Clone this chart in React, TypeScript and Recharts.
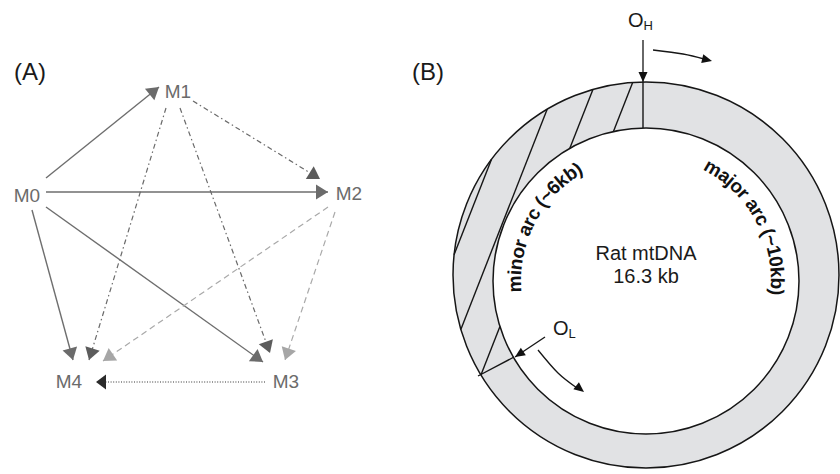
import React from 'react';
import { ComposedChart, XAxis, YAxis, ReferenceLine, ReferenceDot, Scatter, Line } from 'recharts';

const FONT = "'Liberation Sans', Arial, Helvetica, sans-serif";

// ---- panel A: nodes and arrows (page pixels, y goes down) ----
const nodeNames = ['M0', 'M1', 'M2', 'M3', 'M4'];
const nodeX = [27, 178, 349, 286, 69];
const nodeY = [202, 98, 200, 388, 388];

const edgeStyle = ['solid', 'solid', 'solid', 'solid', 'dashdot', 'dashdot', 'dashdot', 'dashed', 'dashed', 'dotted'];
const edgeX1 = [46, 46, 46, 32, 193, 166, 180, 328, 335, 265];
const edgeY1 = [178, 192, 207, 210, 101, 108, 108, 207, 212, 382];
const edgeX2 = [159, 328, 263, 73, 320, 89, 270, 103, 285, 96];
const edgeY2 = [87, 192, 362, 360, 179, 360, 353, 361, 360, 382];

const STYLES: Record<string, { stroke: string; width: number; dash?: string; head: string }> = {
  solid: { stroke: '#6e6e6e', width: 1.4, head: '#6b6b6b' },
  dashdot: { stroke: '#6a6a6a', width: 1.2, dash: '5 3 1.5 3', head: '#5c5c5c' },
  dashed: { stroke: '#a9a9a9', width: 1.2, dash: '6 4', head: '#a6a6a6' },
  dotted: { stroke: '#333333', width: 1.2, dash: '1 1.6', head: '#2b2b2b' },
};

// ---- panel B: ring ----
const RING_X = 646;
const OUTER_Y = 275;
const OUTER_R = 193;
const INNER_Y = 281;
const INNER_R = 153;
const HATCH_C = [665, 628, 590, 554]; // x where each hatch line would cross y = 0
const HATCH_K = 2.55; // dy/dx of the hatch lines
const OH_LINE = [{ x: 643, y: 82 }, { x: 643, y: 128 }];
const OL_LINE = [{ x: 478, y: 376 }, { x: 514, y: 357 }];
const OH_ARROW = [{ x: 643, y: 40 }, { x: 643, y: 82 }];
const OL_ARROW = [{ x: 545, y: 337 }, { x: 515, y: 357 }];
const OH_CURVE = [{ x: 653, y: 50 }, { x: 683, y: 54 }, { x: 704, y: 59 }];
const OL_CURVE = [{ x: 538, y: 350 }, { x: 558, y: 373 }, { x: 577, y: 388 }];

const labelText = ['(A)', '(B)', 'Rat mtDNA', '16.3 kb', 'O', 'O'];
const labelSub = ['', '', '', '', 'H', 'L'];
const labelX = [14, 412, 646, 646, 628, 553];
const labelY = [80, 80, 260, 283, 27, 335];
const labelAnchor = ['start', 'start', 'middle', 'middle', 'start', 'start'];
const labelSize = [24, 24, 20, 20, 20, 20];

const arcText = ['minor arc (~6kb)', 'major arc (~10kb)'];
const arcMid = [207.5, 331.5]; // degrees, clockwise from +x
const ARC_R = 125;

function cut(c: number, cx: number, cy: number, r: number): [number, number] | null {
  const a = c - cx;
  const A = 1 + 1 / (HATCH_K * HATCH_K);
  const B = -(2 * a / HATCH_K + 2 * cy);
  const C = a * a + cy * cy - r * r;
  const d = B * B - 4 * A * C;
  if (d <= 0) return null;
  const s = Math.sqrt(d);
  return [(-B - s) / (2 * A), (-B + s) / (2 * A)];
}

function hatchSegments() {
  const out: { x: number; y: number }[][] = [];
  const [p, q] = OL_LINE;
  HATCH_C.forEach((c) => {
    const o = cut(c, RING_X, OUTER_Y, OUTER_R);
    if (!o) return;
    const i = cut(c, RING_X, INNER_Y, INNER_R);
    const pieces = i ? [[o[0], i[0]], [i[1], o[1]]] : [[o[0], o[1]]];
    pieces.forEach(([ya, yb]) => {
      const my = (ya + yb) / 2;
      const mx = c - my / HATCH_K;
      if (mx >= OH_LINE[0].x) return;
      const side = (q.x - p.x) * (my - p.y) - (q.y - p.y) * (mx - p.x);
      if (side > 0) return;
      out.push([{ x: c - ya / HATCH_K, y: ya }, { x: c - yb / HATCH_K, y: yb }]);
    });
  });
  return out;
}

const ArrowHead = (props: any) => {
  const { cx, cy, payload } = props;
  const a = Math.atan2(payload.dy, payload.dx);
  const L = payload.len;
  const h = payload.half;
  const bx = cx - L * Math.cos(a);
  const by = cy - L * Math.sin(a);
  const nx = -Math.sin(a) * h;
  const ny = Math.cos(a) * h;
  return <polygon points={`${cx},${cy} ${bx + nx},${by + ny} ${bx - nx},${by - ny}`} fill={payload.fill} />;
};

const TextShape = (props: any) => {
  const { cx, cy, payload } = props;
  return (
    <text x={cx} y={cy} textAnchor={payload.anchor} fontSize={payload.size} fill={payload.color} fontFamily={FONT}>
      {payload.text}
      {payload.sub ? (
        <tspan fontSize={13} dy={3}>
          {payload.sub}
        </tspan>
      ) : null}
    </text>
  );
};

const ArcText = (props: any) => {
  const { cx, cy } = props;
  return (
    <g>
      {arcText.map((t, k) => {
        const a0 = ((arcMid[k] - 60) * Math.PI) / 180;
        const a1 = ((arcMid[k] + 60) * Math.PI) / 180;
        const d = `M ${cx + ARC_R * Math.cos(a0)} ${cy + ARC_R * Math.sin(a0)} A ${ARC_R} ${ARC_R} 0 0 1 ${cx + ARC_R * Math.cos(a1)} ${cy + ARC_R * Math.sin(a1)}`;
        return (
          <g key={t}>
            <path id={`arc${k}`} d={d} fill="none" stroke="none" />
            <text fontFamily={FONT} fontWeight={700} fontSize={19} letterSpacing={-0.4} fill="#111">
              <textPath href={`#arc${k}`} startOffset="50%" textAnchor="middle">
                {t}
              </textPath>
            </text>
          </g>
        );
      })}
    </g>
  );
};

export default function App() {
  const nodeData = nodeNames.map((n, i) => ({ x: nodeX[i], y: nodeY[i], text: n, anchor: 'middle', size: 19, color: '#6b6b6b' }));
  const labelData = labelText.map((t, i) => ({ x: labelX[i], y: labelY[i], text: t, sub: labelSub[i], anchor: labelAnchor[i], size: labelSize[i], color: '#1a1a1a' }));

  const headsA = edgeStyle.map((s, i) => ({
    x: edgeX2[i],
    y: edgeY2[i],
    dx: edgeX2[i] - edgeX1[i],
    dy: edgeY2[i] - edgeY1[i],
    len: s === 'dotted' ? 10 : 12,
    half: 7.5,
    fill: STYLES[s].head,
  }));
  const endOf = (pts: { x: number; y: number }[]) => {
    const a = pts[pts.length - 2];
    const b = pts[pts.length - 1];
    return { x: b.x, y: b.y, dx: b.x - a.x, dy: b.y - a.y };
  };
  const headsB = [
    { ...endOf(OH_ARROW), len: 10, half: 4.5, fill: '#111' },
    { ...endOf(OL_ARROW), len: 10, half: 4.5, fill: '#111' },
    { ...endOf(OH_CURVE), x: 712, y: 61, len: 10, half: 4.5, fill: '#111' },
    { ...endOf(OL_CURVE), x: 584, y: 392, len: 10, half: 4.5, fill: '#111' },
  ];

  const hatches = hatchSegments();

  return (
    <div style={{ width: 840, height: 474 }}>
      <style>{'body{margin:0;background:#fff}'}</style>
      <ComposedChart width={840} height={474} margin={{ top: 0, right: 0, bottom: 0, left: 0 }}>
        <XAxis type="number" dataKey="x" domain={[0, 840]} allowDataOverflow hide />
        <YAxis type="number" dataKey="y" domain={[0, 474]} reversed allowDataOverflow hide />

        <ReferenceDot zIndex={50} x={RING_X} y={OUTER_Y} r={OUTER_R} fill="#e1e2e4" stroke="#161616" strokeWidth={1.5} ifOverflow="visible" />
        <ReferenceDot zIndex={51} x={RING_X} y={INNER_Y} r={INNER_R} fill="#ffffff" stroke="#161616" strokeWidth={1.5} ifOverflow="visible" />

        {hatches.map((seg, i) => (
          <ReferenceLine zIndex={400} key={`h${i}`} segment={seg} stroke="#161616" strokeWidth={1.4} ifOverflow="visible" />
        ))}
        <ReferenceLine zIndex={400} segment={OH_LINE} stroke="#161616" strokeWidth={1.4} ifOverflow="visible" />
        <ReferenceLine zIndex={400} segment={OL_LINE} stroke="#161616" strokeWidth={1.4} ifOverflow="visible" />
        <ReferenceLine zIndex={400} segment={OH_ARROW} stroke="#161616" strokeWidth={1.3} ifOverflow="visible" />
        <ReferenceLine zIndex={400} segment={OL_ARROW} stroke="#161616" strokeWidth={1.3} ifOverflow="visible" />

        {edgeStyle.map((s, i) => (
          <ReferenceLine
            zIndex={400}
            key={`e${i}`}
            segment={[{ x: edgeX1[i], y: edgeY1[i] }, { x: edgeX2[i], y: edgeY2[i] }]}
            stroke={STYLES[s].stroke}
            strokeWidth={STYLES[s].width}
            strokeDasharray={STYLES[s].dash}
            ifOverflow="visible"
          />
        ))}

        <Line data={OH_CURVE} dataKey="y" type="natural" stroke="#161616" strokeWidth={1.3} dot={false} isAnimationActive={false} />
        <Line data={OL_CURVE} dataKey="y" type="natural" stroke="#161616" strokeWidth={1.3} dot={false} isAnimationActive={false} />

        <Scatter data={headsA} shape={ArrowHead} isAnimationActive={false} />
        <Scatter data={headsB} shape={ArrowHead} isAnimationActive={false} />
        <Scatter data={[{ x: RING_X, y: INNER_Y }]} shape={ArcText} isAnimationActive={false} />
        <Scatter data={nodeData} shape={TextShape} isAnimationActive={false} />
        <Scatter data={labelData} shape={TextShape} isAnimationActive={false} />
      </ComposedChart>
    </div>
  );
}
